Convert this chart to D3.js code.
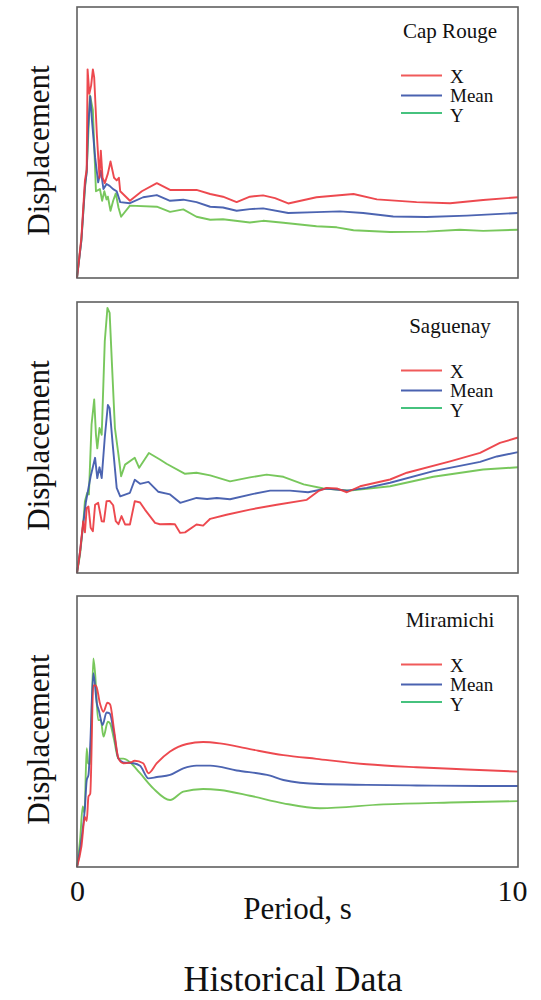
<!DOCTYPE html>
<html>
<head>
<meta charset="utf-8">
<script src="https://cdn.jsdelivr.net/npm/d3@7"></script>
<style>
  html, body { margin: 0; padding: 0; background: #fff; }
  svg { display: block; }
  text { font-family: "Liberation Serif", "Times New Roman", serif; fill: #111; }
</style>
</head>
<body>
<svg id="chart" width="541" height="1000"></svg>
<script>
// ---- Data (period in s, displacement in % of panel height) ----
const stations = ["Cap Rouge", "Saguenay", "Miramichi"];
const seriesNames = ["X", "Mean", "Y"];
const xTicks = [0, 10];

const capRougeX = [[0,0],[0.1,15],[0.18,36],[0.22,40],[0.24,77],[0.28,68],[0.32,71],[0.36,77],[0.39,74],[0.45,53],[0.51,37],[0.54,47],[0.58,37],[0.63,35],[0.70,38.5],[0.76,43],[0.84,37],[0.9,36],[0.95,37],[0.98,32],[1.2,28.5],[1.47,32],[1.81,35],[2.11,32.5],[2.71,32.5],[3.02,31],[3.31,30],[3.62,28],[3.92,30],[4.22,30.5],[4.49,29.5],[4.79,27.5],[5.43,29.8],[6.27,31],[6.8,29],[7.7,28],[8.46,27.6],[9.21,28.8],[10,29.8]];
const capRougeMean = [[0,0],[0.1,14],[0.18,34],[0.22,39],[0.25,55],[0.30,67],[0.34,58],[0.41,44.6],[0.48,35.3],[0.54,39.6],[0.60,32.8],[0.67,34.7],[0.74,34],[0.82,32.8],[0.9,32],[0.98,28],[1.2,27.6],[1.5,29.8],[1.81,30.6],[2.11,28.5],[2.41,28.9],[2.71,28],[3.02,26.3],[3.31,26],[3.62,24.8],[3.92,25.4],[4.22,25.7],[4.79,24],[5.43,24.3],[5.96,24.6],[6.49,24],[7.17,22.7],[7.93,22.5],[8.84,23],[10,24]];
const capRougeY = [[0,0],[0.1,14],[0.18,33],[0.22,39.6],[0.295,67.4],[0.36,62],[0.43,32],[0.52,32.8],[0.57,28.5],[0.62,32],[0.67,29],[0.70,30],[0.76,24.8],[0.82,28.5],[0.88,31.2],[0.94,26],[1.0,22.6],[1.2,26.7],[1.81,26.3],[2.11,24.4],[2.41,25.3],[2.71,22.6],[3.02,21.5],[3.31,21.7],[3.92,20.5],[4.22,21.1],[4.68,20.4],[5.43,19.1],[5.89,18.7],[6.27,17.6],[7.1,17],[7.93,17.1],[8.68,17.8],[9.21,17.4],[10,17.8]];

const saguenayX = [[0,0],[0.07,8],[0.14,19],[0.18,15],[0.22,24],[0.26,24.5],[0.31,16.7],[0.36,15.4],[0.41,25.2],[0.48,25.9],[0.56,19.1],[0.61,19],[0.67,26.5],[0.74,26.6],[0.82,25],[0.88,19.1],[0.94,18],[1.01,21],[1.09,17.9],[1.2,17.9],[1.31,26.5],[1.43,26],[1.54,23.4],[1.77,18.5],[1.88,18],[2.11,18.1],[2.22,18],[2.34,14.8],[2.45,15],[2.71,17.9],[2.86,17.5],[3.02,20],[3.39,21.5],[3.92,23.4],[4.53,25.2],[5.21,27],[5.47,30.2],[5.66,31.4],[5.89,31.2],[6.12,29.8],[6.42,32],[7.1,34.5],[7.48,37],[8.46,41.2],[9.14,44.3],[9.59,48],[10,50]];
const saguenayMean = [[0,0],[0.07,8],[0.14,18],[0.2,26],[0.31,35.7],[0.41,42.5],[0.46,35],[0.51,39],[0.56,35],[0.63,50],[0.70,62],[0.74,60.8],[0.81,47.4],[0.90,31.4],[0.98,28.3],[1.2,29.6],[1.31,34.4],[1.43,32.9],[1.62,33.6],[1.84,30],[2.11,29],[2.34,25.9],[2.71,27.7],[2.95,27.3],[3.17,27.7],[3.47,27.2],[4.0,29.2],[4.38,30.4],[4.83,30.4],[5.24,29.8],[5.66,31.2],[6.12,30.4],[6.57,31.4],[7.1,33.3],[8.08,37.6],[9.14,41],[9.52,43],[10,44.6]];
const saguenayY = [[0,0],[0.07,7],[0.14,18],[0.18,26.5],[0.23,29.5],[0.27,29],[0.33,54.8],[0.39,64],[0.43,51],[0.46,46],[0.51,53.5],[0.56,51],[0.63,85.5],[0.69,97.8],[0.74,96],[0.79,78],[0.86,53.5],[0.94,43.7],[1.0,35.7],[1.09,40],[1.31,42.5],[1.41,38.8],[1.63,44.3],[1.88,41.9],[2.03,40.3],[2.45,36.6],[2.71,37],[3.02,36],[3.47,33.8],[3.92,35.3],[4.3,36.3],[4.68,35.5],[5.14,32.7],[5.59,31.2],[6.19,30.4],[7.1,32],[8.08,35.5],[9.21,38.2],[10,39]];

const miramichiX = [[0,0],[0.1,7.5],[0.18,18.5],[0.22,17],[0.26,26],[0.3,27],[0.37,67],[0.43,67],[0.52,60.4],[0.6,57.3],[0.69,60.6],[0.75,60],[0.84,50.6],[0.94,40.1],[1.05,38.3],[1.2,38.5],[1.31,39.2],[1.5,38.3],[1.62,34.6],[1.81,38.3],[2.11,42.6],[2.49,45.4],[2.86,46.1],[3.24,45.6],[3.92,43.5],[4.68,41.3],[5.43,39.9],[6.57,37.9],[7.7,36.8],[8.84,36],[10,35.2]];
const miramichiMean = [[0,0],[0.1,10],[0.18,22],[0.22,32],[0.26,34],[0.3,45],[0.37,71.5],[0.45,60.4],[0.5,57.5],[0.58,52.4],[0.67,57],[0.74,56.7],[0.84,49.3],[0.94,40],[1.05,38.6],[1.28,38.3],[1.43,37.4],[1.62,32.7],[1.81,33.2],[2.11,34],[2.41,36.4],[2.71,37.4],[3.02,37.4],[3.62,35.6],[4.38,33.7],[4.68,32.1],[5.51,30.6],[6.57,30.3],[7.7,30.1],[9.21,29.9],[10,29.9]];
const miramichiY = [[0,0],[0.07,10],[0.13,22.3],[0.17,20],[0.22,43.8],[0.25,38.3],[0.3,38],[0.37,77],[0.41,71.5],[0.48,54.2],[0.54,54.2],[0.6,48.1],[0.70,53.6],[0.75,53],[0.84,47],[0.94,40],[1.05,40],[1.2,38.7],[1.43,34.6],[1.73,29],[2.11,24.7],[2.41,27.8],[2.86,28.8],[3.24,28.4],[3.92,26.3],[4.68,23.5],[5.51,21.7],[6.95,23.1],[8.46,23.8],[10,24.3]];

const panelData = [
  [capRougeX, capRougeMean, capRougeY],
  [saguenayX, saguenayMean, saguenayY],
  [miramichiX, miramichiMean, miramichiY]
];

// ---- Layout / style ----
const lineColors = ["#ec3a40", "#3d57aa", "#6cc24e"];
const legendColors = ["#f05a5a", "#4a62b0", "#46c27e"];
const left = 77, right = 518;
const panelTops = [7, 302, 596];
const panelH = 271;

const svg = d3.select("#chart");
const x = d3.scaleLinear().domain([0, 10]).range([left, right]);

panelData.forEach((series, i) => {
  const top = panelTops[i];
  const y = d3.scaleLinear().domain([0, 100]).range([top + panelH, top]);
  const g = svg.append("g");

  const line = d3.line()
    .x(d => x(d[0]))
    .y(d => y(d[1]))
    .curve(i === 2 ? d3.curveMonotoneX : d3.curveLinear);

  [2, 1, 0].forEach(k => {
    g.append("path")
      .datum(series[k])
      .attr("d", line)
      .attr("fill", "none")
      .attr("stroke", lineColors[k])
      .attr("stroke-width", 1.9)
      .attr("stroke-linejoin", "round")
      .attr("opacity", 0.92);
  });

  g.append("rect")
    .attr("x", left).attr("y", top)
    .attr("width", right - left).attr("height", panelH)
    .attr("fill", "none")
    .attr("stroke", "#606060")
    .attr("stroke-width", 1.6);

  g.append("text")
    .attr("x", 450).attr("y", top + 31)
    .attr("text-anchor", "middle")
    .style("font-size", "21px")
    .text(stations[i]);

  const ly = [68.5, 88.5, 106];
  const ty = [75.5, 94.5, 114.5];
  seriesNames.forEach((name, k) => {
    g.append("line")
      .attr("x1", 401).attr("x2", 442)
      .attr("y1", top + ly[k]).attr("y2", top + ly[k])
      .attr("stroke", legendColors[k])
      .attr("stroke-width", 2);
    g.append("text")
      .attr("x", 450).attr("y", top + ty[k])
      .style("font-size", "19px")
      .text(name);
  });

  const cy = top + panelH / 2 + 8;
  g.append("text")
    .attr("transform", `translate(49,${cy}) rotate(-90)`)
    .attr("text-anchor", "middle")
    .style("font-size", "31px")
    .text("Displacement");
});

const axisY = panelTops[2] + panelH;
const axis = d3.axisBottom(x).tickValues(xTicks).tickSize(0).tickPadding(13).tickFormat(d3.format("d"));
const ax = svg.append("g").attr("transform", `translate(0,${axisY})`).call(axis);
ax.select(".domain").remove();
ax.selectAll("text")
  .style("font-family", "'Liberation Serif', 'Times New Roman', serif")
  .style("font-size", "30px")
  .attr("fill", "#111");
ax.selectAll(".tick").filter(d => d === 10).select("text").attr("dx", "-6");

svg.append("text")
  .attr("x", (left + right) / 2).attr("y", 919)
  .attr("text-anchor", "middle")
  .style("font-size", "31px")
  .text("Period, s");

svg.append("text")
  .attr("x", 293).attr("y", 991)
  .attr("text-anchor", "middle")
  .style("font-size", "36px")
  .text("Historical Data");
</script>
</body>
</html>
